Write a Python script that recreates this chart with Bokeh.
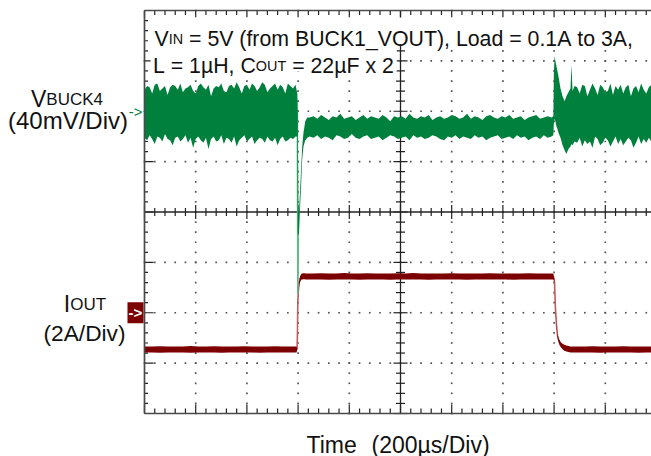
import numpy as np
from bokeh.plotting import figure
from bokeh.models import Range1d
from bokeh.core.properties import value
from bokeh.embed import file_html
from bokeh.resources import INLINE

# ---------------- data read from the scope capture ----------------
# time in microseconds (200 us/div); V_BUCK4 in mV relative to its marker (40 mV/div);
# I_OUT in A (2 A/div). Traces are given as upper / lower envelopes of the sampled band.
V_REF_DIV = 6.0      # V_BUCK4 marker level (div from bottom)
V_PER_DIV = 40.0     # mV/div
I_REF_DIV = 2.0      # I_OUT marker level
I_ZERO_DIV = 1.22    # 0 A level
I_PER_DIV = 2.0      # A/div

v_pre_t = [0, 10, 20, 30, 40, 50, 60, 70, 80, 90, 100, 110, 120, 130, 140, 150, 160, 170, 180, 190,
           200, 210, 220, 230, 240, 250, 260, 270, 280, 290, 300, 310, 320, 330, 340, 350, 360, 370, 380, 390,
           400, 410, 420, 430, 440, 450, 460, 470, 480, 490, 500, 510, 520, 530, 540, 550, 560, 570, 580, 590]
v_pre_hi = [17, 20, 19, 14, 21, 22, 16, 18, 20, 13, 19, 21, 20, 17, 22, 15, 18, 19, 21, 16,
            14, 20, 22, 19, 17, 21, 12, 18, 20, 19, 22, 16, 15, 20, 21, 18, 23, 19, 14, 20,
            21, 17, 22, 20, 16, 19, 23, 21, 15, 18, 20, 22, 17, 21, 19, 14, 22, 20, 18, 21]
v_pre_lo = [-21, -23, -19, -22, -26, -20, -21, -24, -18, -22, -23, -27, -21, -20, -24, -22, -19, -25, -21, -29,
            -22, -20, -23, -25, -21, -30, -22, -20, -24, -23, -19, -26, -21, -22, -25, -20, -28, -23, -21, -19,
            -24, -22, -20, -26, -23, -21, -22, -25, -20, -23, -24, -21, -27, -22, -20, -24, -23, -21, -22, -20]

v_dip_t = [597, 598.5, 601, 604, 608, 612, 616, 621, 628, 636]
v_dip_hi = [14, 5, -80, -78, -62, -45, -28, -17, -8, -5]
v_dip_lo = [-20, -97, -100, -95, -75, -58, -38, -28, -23, -21]

v_mid_t = [645, 660, 675, 690, 705, 720, 735, 750, 765, 780, 795, 810, 825, 840, 855, 870, 885, 900, 915, 930,
           945, 960, 975, 990, 1005, 1020, 1035, 1050, 1065, 1080, 1095, 1110, 1125, 1140, 1155, 1170, 1185,
           1200, 1215, 1230, 1245, 1260, 1275, 1290, 1305, 1320, 1335, 1350, 1365, 1380, 1395, 1410, 1425,
           1440, 1455, 1470, 1485, 1500, 1515, 1530, 1545, 1560, 1575, 1590]
v_mid_hi = [-5, -4, -6, -3, -5, -7, -4, -5, -2, -6, -5, -4, -7, -5, -3, -6, -4, -5, -6, -3,
            -5, -8, -4, -5, -4, -6, -2, -5, -6, -4, -5, -3, -7, -5, -4, -6, -5, -3, -4, -6,
            -5, -2, -6, -4, -5, -7, -4, -3, -5, -6, -4, -5, -3, -6, -5, -4, -7, -5, -4, -3,
            -6, -5, -4, -5]
v_mid_lo = [-20, -21, -19, -22, -20, -21, -23, -19, -20, -22, -21, -18, -21, -22, -20, -19, -22, -21, -20, -23,
            -21, -19, -20, -22, -21, -20, -23, -19, -21, -20, -22, -21, -19, -20, -22, -23, -20, -21, -19, -22,
            -20, -21, -22, -19, -21, -20, -23, -21, -20, -19, -22, -21, -20, -22, -19, -21, -20, -23, -21, -20,
            -22, -19, -21, -20]

v_spk_t = [1597, 1599, 1602, 1605, 1609, 1613, 1617, 1625, 1633, 1641, 1648, 1656, 1664, 1668, 1672, 1680]
v_spk_hi = [-4, 30, 44, 40, 36, 32, 28, 18, 12, 8, 12, 15, 18, 37, 16, 20]
v_spk_lo = [-19, -10, -6, -8, -12, -14, -17, -21, -27, -31, -34, -30, -28, -26, -27, -24]

v_post_t = [1690, 1700, 1710, 1720, 1730, 1740, 1750, 1760, 1770, 1780, 1790, 1800, 1810, 1820, 1830,
            1840, 1850, 1860, 1870, 1880, 1890, 1900, 1910, 1920, 1930, 1940, 1950, 1960, 1970, 1980]
v_post_hi = [19, 14, 21, 20, 12, 17, 22, 18, 13, 21, 19, 15, 16, 22, 13, 20, 17, 21, 14, 19,
             21, 12, 18, 20, 15, 22, 17, 14, 19, 21]
v_post_lo = [-25, -21, -28, -23, -26, -24, -29, -20, -22, -27, -25, -21, -23, -28, -24, -20, -26, -22, -27, -24,
             -21, -23, -29, -25, -20, -26, -22, -25, -21, -24]

# fast edge of the undershoot (thin, light trace)
v_edge_t = [597, 599, 601]
v_edge_mv = [0, -145, -100]

i_pre_t = [0, 30, 60, 90, 120, 150, 180, 210, 240, 270, 300, 330, 360, 390, 420, 450, 480, 510, 540, 570, 594]
i_pre_hi = [0.22, 0.22, 0.23, 0.22, 0.22, 0.22, 0.24, 0.22, 0.22, 0.23, 0.22, 0.22, 0.22, 0.23, 0.22, 0.22,
            0.22, 0.23, 0.22, 0.22, 0.22]
i_pre_lo = [-0.02, -0.02, -0.03, -0.02, -0.02, -0.02, -0.03, -0.02, -0.02, -0.02, -0.03, -0.02, -0.02, -0.02,
            -0.02, -0.03, -0.02, -0.02, -0.02, -0.02, -0.02]

i_rise_t = [596, 597.5, 599, 601, 604, 608, 614, 622, 632]
i_rise_hi = [0.16, 0.85, 2.05, 2.5, 2.82, 3.02, 3.12, 3.13, 3.12]
i_rise_lo = [0.06, 0.75, 1.95, 2.35, 2.62, 2.8, 2.88, 2.89, 2.88]

i_high_t = [660, 690, 720, 750, 780, 810, 840, 870, 900, 930, 960, 990, 1020, 1050, 1080, 1110, 1140, 1170,
            1200, 1230, 1260, 1290, 1320, 1350, 1380, 1410, 1440, 1470, 1500, 1530, 1560, 1590]
i_high_hi = [3.12, 3.13, 3.12, 3.12, 3.14, 3.12, 3.12, 3.13, 3.12, 3.12, 3.12, 3.13, 3.12, 3.14, 3.12, 3.12,
             3.12, 3.12, 3.13, 3.12, 3.12, 3.12, 3.12, 3.13, 3.12, 3.12, 3.12, 3.12, 3.13, 3.12, 3.12, 3.12]
i_high_lo = [2.88, 2.88, 2.87, 2.88, 2.88, 2.88, 2.87, 2.88, 2.88, 2.88, 2.87, 2.88, 2.88, 2.88, 2.88, 2.87,
             2.88, 2.88, 2.88, 2.88, 2.87, 2.88, 2.88, 2.88, 2.88, 2.88, 2.87, 2.88, 2.88, 2.88, 2.88, 2.88]

i_fall_t = [1597, 1600, 1602, 1605, 1609, 1613, 1617, 1621, 1627, 1633, 1640, 1648, 1656, 1664]
i_fall_hi = [3.12, 2.96, 2.77, 1.82, 1.18, 0.72, 0.58, 0.48, 0.38, 0.33, 0.29, 0.26, 0.24, 0.22]
i_fall_lo = [2.88, 2.84, 2.67, 1.72, 1.08, 0.60, 0.42, 0.28, 0.18, 0.11, 0.05, 0.02, 0.0, -0.02]

i_post_t = [1690, 1720, 1750, 1780, 1810, 1840, 1870, 1900, 1930, 1960, 1990]
i_post_hi = [0.22, 0.22, 0.23, 0.22, 0.22, 0.22, 0.23, 0.22, 0.22, 0.22, 0.22]
i_post_lo = [-0.02, -0.02, -0.02, -0.03, -0.02, -0.02, -0.02, -0.02, -0.03, -0.02, -0.02]

# text
TXT_L1 = [("V", "m"), ("IN", "s"), (" = 5V (from BUCK1_VOUT), Load = 0.1A to 3A,", "m")]
TXT_L2 = [("L = 1µH, C", "m"), ("OUT", "s"), (" = 22µF x 2", "m")]
TXT_V = [("V", "m"), ("BUCK4", "s")]
TXT_VSCALE = "(40mV/Div)"
TXT_I = [("I", "m"), ("OUT", "s")]
TXT_ISCALE = "(2A/Div)"
TXT_TIME = ["Time", "(200µs/Div)"]

# ---------------- geometry ----------------
W, H = 651, 456
XDIV = 200.0
NX, NY = 10, 8
PXX = XDIV / 51.2          # us per pixel
PYD = 50.375               # pixels per div
LEFT_PX, BOT_PX = 144.0, 413.0   # scope frame (picture px)


def tx(px):
    return (px - LEFT_PX) * PXX


def ty(py):
    return (BOT_PX - py) / PYD


p = figure(width=W, height=H, x_range=Range1d(tx(0), tx(W)), y_range=Range1d(ty(H), ty(0)),
           x_axis_type=None, y_axis_type=None, toolbar_location=None, output_backend="svg",
           min_border=0, outline_line_color=None, title=None)
p.background_fill_color = "white"
p.border_fill_color = "white"

GREEN = "#00803d"
GREEN_L = "#62b98a"
RED = "#7d0000"
RED_L = "#c06464"
GRID = "#4a4a4a"

# dotted graticule
minor_x = np.arange(0, NX * XDIV + 1e-6, XDIV / 5)
minor_y = np.arange(0, NY + 1e-6, 0.2)
gx, gy = [], []
for d in range(1, NY):
    if d == NY // 2:
        continue
    for t in minor_x:
        gx.append(t); gy.append(d)
for k in range(1, NX):
    if k == NX // 2:
        continue
    for d in minor_y:
        gx.append(k * XDIV); gy.append(d)
p.scatter(gx, gy, marker="square", size=1.7, fill_color="#555555", line_color=None)

# center cross + ticks
sx0, sy0, sx1, sy1 = [], [], [], []


def seg(a, b, c, d):
    sx0.append(a); sy0.append(b); sx1.append(c); sy1.append(d)


def major(v, step):
    return abs(v / step - round(v / step)) < 1e-6


for d in minor_y:
    mj = major(d, 1.0)
    seg(0, d, (9 if mj else 3.5) * PXX, d)
    h = (7 if mj else 4.5) * PXX
    seg(NX / 2 * XDIV - h, d, NX / 2 * XDIV + h, d)
for t in minor_x:
    mj = major(t, XDIV)
    seg(t, NY, t, NY - (7 if mj else 4.5) / PYD)
    seg(t, 0, t, (9 if mj else 5) / PYD)
    h = (7 if mj else 4) / PYD
    seg(t, NY / 2 - h, t, NY / 2 + h)
p.segment(sx0, sy0, sx1, sy1, line_color="#222222", line_width=1.2)
p.segment([NX / 2 * XDIV, 0], [0, NY / 2], [NX / 2 * XDIV, NX * XDIV], [NY, NY / 2],
          line_color="#222222", line_width=1.3)

# ---------------- text helpers ----------------
AW = {' ': 278, '(': 333, ')': 333, ',': 278, '.': 278, '/': 278, '=': 584, '_': 556, '-': 333, '>': 584,
      'A': 667, 'B': 667, 'C': 722, 'D': 722, 'F': 611, 'H': 722, 'I': 278, 'K': 667, 'L': 556, 'N': 722,
      'O': 778, 'T': 611, 'U': 722, 'V': 667, 'a': 556, 'd': 556, 'e': 556, 'f': 278, 'i': 222, 'm': 833,
      'o': 556, 'r': 333, 's': 500, 't': 278, 'v': 500, 'x': 500, 'µ': 576}


def tw(s, size):
    return sum(AW.get(c, 556) for c in s) * size / 1000.0


def draw(s, px, py, size, align="left"):
    p.text(x=[tx(px)], y=[ty(py)], text=[s.replace(" ", "\u00a0")], text_font=value("Liberation Sans"),
           text_font_size=value(f"{size}px"), text_color="#111111", text_align=align,
           text_baseline="alphabetic")


def runs_width(runs, fm, fs):
    sizes = {"m": fm, "s": fs}
    return sum(tw(s, sizes[k]) for s, k in runs)


def draw_runs(runs, px, py, fm, fs, center=False):
    sizes = {"m": fm, "s": fs}
    total = runs_width(runs, fm, fs)
    x = px - total / 2 if center else px
    for s, k in runs:
        draw(s, x, py + (0.8 if k == "s" else 0), sizes[k])
        x += tw(s, sizes[k])


F1, F1S = 21.3, 14.4
L1_X, L1_Y = 154, 38
L2_X, L2_Y = 152.5, 65

# white backing behind the annotation block (hides the graticule under the text)
w1 = runs_width(TXT_L1, F1, F1S)
w2 = runs_width(TXT_L2, F1, F1S)
p.quad(left=[tx(L1_X - 4), tx(L2_X - 2.5)], right=[tx(L1_X + w1 + 3), tx(L2_X + w2 + 3)],
       top=[ty(L1_Y - 21), ty(L2_Y - 21)], bottom=[ty(L1_Y + 6), ty(L2_Y + 6)],
       fill_color="white", line_color=None)

# current trace
i_t = i_pre_t + i_rise_t + i_high_t + i_fall_t + i_post_t
i_hi = np.array(i_pre_hi + i_rise_hi + i_high_hi + i_fall_hi + i_post_hi)
i_lo = np.array(i_pre_lo + i_rise_lo + i_high_lo + i_fall_lo + i_post_lo)
p.line(i_t, I_ZERO_DIV + (i_hi + i_lo) / 2 / I_PER_DIV, line_color=RED_L, line_width=1.6)
p.varea(x=i_t, y1=I_ZERO_DIV + i_lo / I_PER_DIV, y2=I_ZERO_DIV + i_hi / I_PER_DIV, fill_color=RED)

# voltage trace
v_t = v_pre_t + v_dip_t + v_mid_t + v_spk_t + v_post_t
v_hi = np.array(v_pre_hi + v_dip_hi + v_mid_hi + v_spk_hi + v_post_hi, dtype=float)
v_lo = np.array(v_pre_lo + v_dip_lo + v_mid_lo + v_spk_lo + v_post_lo, dtype=float)
p.line(v_edge_t, V_REF_DIV + np.array(v_edge_mv) / V_PER_DIV, line_color=GREEN_L, line_width=1.6)
p.varea(x=v_t, y1=V_REF_DIV + v_lo / V_PER_DIV, y2=V_REF_DIV + v_hi / V_PER_DIV, fill_color=GREEN)

# frame border
p.segment([0, 0, 0], [0, NY, 0], [0, NX * XDIV, NX * XDIV], [NY, NY, 0], line_color=GRID, line_width=1.7)

# channel markers
p.text(x=[tx(142)], y=[V_REF_DIV], text=["->"], text_font=value("Liberation Sans"),
       text_font_size=value("15px"), text_color=GREEN, text_align="right", text_baseline="middle")
p.rect(x=[tx(135)], y=[I_REF_DIV], width=16, height=21, width_units="screen", height_units="screen",
       fill_color=RED, line_color=None)
p.text(x=[tx(135)], y=[I_REF_DIV], text=["->"], text_font=value("Liberation Sans"),
       text_font_size=value("15px"), text_color="white", text_align="center", text_baseline="middle",
       text_font_style="bold")

# ---------------- texts ----------------
F2, F2S = 23, 17
draw_runs(TXT_L1, L1_X, L1_Y, F1, F1S)
draw_runs(TXT_L2, L2_X, L2_Y, F1, F1S)
draw_runs(TXT_V, 66.5, 98, F2, F2S, center=True)
draw(TXT_VSCALE, 67.5, 120, 24, "center")
draw_runs(TXT_I, 84.5, 303, F2, F2S, center=True)
draw(TXT_ISCALE, 84, 332, 22.7, "center")
FT = 23
draw(TXT_TIME[0], 306, 444, FT)
draw(TXT_TIME[1], 371, 444, FT)

open("out.html", "w").write(file_html(p, INLINE))
